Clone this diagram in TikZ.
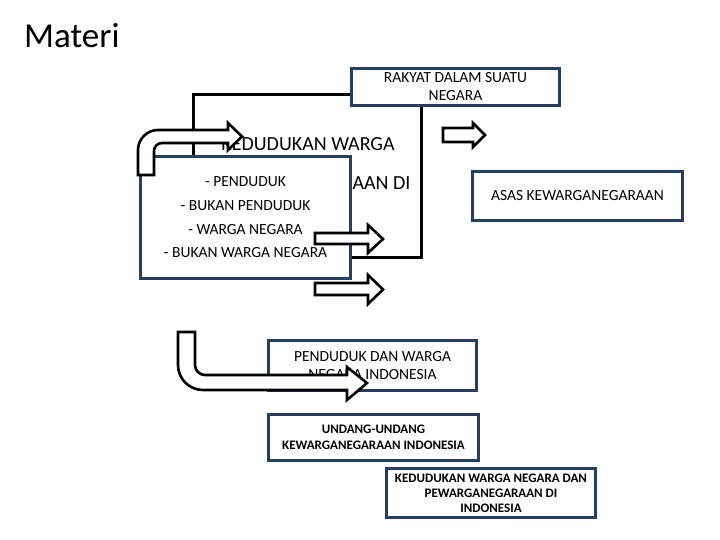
\documentclass[tikz,border=0pt]{standalone}
\usepackage{fontspec}
\setmainfont{Carlito}
\definecolor{navy}{HTML}{243F60}
\begin{document}
\begin{tikzpicture}[x=1pt,y=-1pt,
  box/.style={draw=navy,line width=3pt,fill=white,inner sep=0pt,align=center},
  blockarrow/.style={draw=black,line width=2.6pt,fill=white,line join=miter},
  regtext/.style={font=\fontsize{15.5}{18}\selectfont},
  boldtext/.style={font=\bfseries\fontsize{13}{15.5}\selectfont}]
\useasboundingbox (0,0) rectangle (720,540);
\fill[white] (0,0) rectangle (720,540);

\node[anchor=base west,inner sep=0pt,font=\fontsize{35}{40}\selectfont] (title) at (24,48) {Materi};

% hidden black box behind
\node[draw=black,line width=3pt,minimum width=228pt,minimum height=163pt,inner sep=0pt] (kbox) at (307.5,176) {};
\node[font=\fontsize{20}{24}\selectfont,inner sep=0pt] (kline1) at (308,144) {KEDUDUKAN WARGA};
\node[font=\fontsize{20}{24}\selectfont,inner sep=0pt] (kline2) at (311,183) {KEWARGANEGARAAN DI};

\node[box,regtext,minimum width=208pt,minimum height=37pt] (rakyat) at (455.5,87) {RAKYAT DALAM SUATU\\NEGARA};
\node[box,font=\fontsize{15.5}{23.7}\selectfont,minimum width=210pt,minimum height=122pt] (pend) at (245.5,217.5) {- PENDUDUK\\- BUKAN PENDUDUK\\- WARGA NEGARA\\- BUKAN WARGA NEGARA};
\node[box,regtext,minimum width=210pt,minimum height=49pt] (asas) at (577.5,196) {ASAS KEWARGANEGARAAN};
\node[box,regtext,minimum width=208pt,minimum height=50pt] (pdwn) at (372.5,365.5) {PENDUDUK DAN WARGA\\NEGARA INDONESIA};
\node[box,boldtext,font=\bfseries\fontsize{13}{16}\selectfont,minimum width=210pt,minimum height=46pt] (uu) at (373.5,437.5) {UNDANG-UNDANG\\KEWARGANEGARAAN INDONESIA};
\node[box,font=\bfseries\fontsize{13}{14.8}\selectfont,minimum width=209pt,minimum height=49pt] (kwn) at (491,493) {KEDUDUKAN WARGA NEGARA DAN\\PEWARGANEGARAAN DI\\INDONESIA};

% block arrows
\draw[blockarrow] (138,175) -- (138,150) .. controls (138,139) and (147,130) .. (158,130) -- (228,130) -- (228,123) -- (242,136.5) -- (228,150) -- (228,143) -- (162,143) .. controls (157.6,143) and (154,146.6) .. (154,151) -- (154,175) -- cycle;
\draw[blockarrow] (443,128) -- (473,128) -- (473,123) -- (485,135) -- (473,147) -- (473,142) -- (443,142) -- cycle;
\draw[blockarrow] (315,233) -- (368,233) -- (368,225) -- (383,239) -- (368,253) -- (368,244) -- (315,244) -- cycle;
\draw[blockarrow] (315,283) -- (368,283) -- (368,275) -- (383,289.5) -- (368,304) -- (368,295) -- (315,295) -- cycle;
\draw[blockarrow] (178,332) -- (178,365) .. controls (178,378.8) and (189.2,390) .. (203,390) -- (347,390) -- (347,400) -- (367,383) -- (347,367) -- (347,375) -- (205,375) .. controls (199.5,375) and (195,370.5) .. (195,365) -- (195,332) -- cycle;
\end{tikzpicture}
\end{document}
